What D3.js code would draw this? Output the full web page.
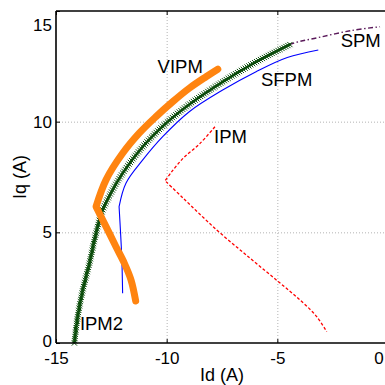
<!DOCTYPE html>
<html><head><meta charset="utf-8">
<script src="https://cdn.jsdelivr.net/npm/d3@7"></script>
<style>body{margin:0;background:#fff}svg{display:block}</style>
</head><body>
<svg id="chart" width="385" height="385"></svg>
<script>
// Axis ticks
const xTicks = [-15, -10, -5, 0];
const yTicks = [0, 5, 10, 15];

// Current trajectories (Id, Iq in A)
const spmId  = [-14.17, -14.02, -13.79, -13.49, -13.19, -12.89, -12.45, -11.99, -11.08, -10.03, -8.98, -7.47, -5.96, -4.40, -3.15, -1.64, -0.36];
const spmIq  = [0, 1.19, 2.39, 3.60, 4.96, 6.01, 6.90, 7.67, 8.87, 9.93, 10.78, 11.80, 12.70, 13.50, 13.80, 14.12, 14.29];

const ipm2Id = [-14.17, -14.02, -13.79, -13.49, -13.19, -12.89, -12.45, -11.99, -11.08, -10.03, -8.98, -7.47, -5.96, -4.40];
const ipm2Iq = [0, 1.19, 2.39, 3.60, 4.96, 6.01, 6.90, 7.67, 8.87, 9.93, 10.78, 11.80, 12.70, 13.50];

const vipmId = [-11.40, -11.61, -11.91, -12.29, -12.74, -13.19, -12.74, -11.99, -11.24, -10.48, -9.73, -8.98, -8.22, -7.69];
const vipmIq = [1.90, 2.85, 3.60, 4.35, 5.26, 6.16, 7.37, 8.57, 9.48, 10.23, 10.90, 11.51, 12.03, 12.37];

const sfpmId = [-11.99, -12.03, -12.15, -11.84, -11.08, -10.18, -8.98, -7.47, -5.96, -4.55, -3.15];
const sfpmIq = [2.25, 3.90, 6.16, 7.22, 8.27, 9.32, 10.45, 11.43, 12.26, 12.90, 13.24];

const ipmId  = [-7.82, -8.49, -9.25, -9.77, -10.07, -9.25, -7.74, -6.23, -4.95, -3.97, -3.22, -2.77];
const ipmIq  = [9.77, 9.02, 8.35, 7.74, 7.33, 6.54, 5.11, 3.83, 2.77, 1.94, 1.19, 0.51];

// Curve names and where their labels sit (in Id/Iq units)
const labelText = ["VIPM", "SFPM", "SPM", "IPM", "IPM2"];
const labelId   = [-10.41, -5.74, -2.14, -7.86, -13.92];
const labelIq   = [12.19, 11.61, 13.39, 9.02, 0.59];

(function () {
const svg = d3.select("#chart");
const W = 385, H = 385;
const padLeft = 56, yBottom = 343, yTop = 11;
const x = d3.scaleLinear().domain([-15, 0]).range([padLeft, 388]);
const y = d3.scaleLinear().domain([0, 15]).range([yBottom, yTop]);
const font = "'Liberation Sans', Arial, Helvetica, sans-serif";

svg.append("rect").attr("width", W).attr("height", H).attr("fill", "#fff");

// dotted grid
const grid = svg.append("g").attr("stroke", "#b3b3b3").attr("stroke-width", 1).attr("stroke-dasharray", "1,2");
grid.selectAll(".gx").data(xTicks.filter(v => v > -15 && v < 0)).join("line")
  .attr("x1", d => x(d) + 0.5).attr("x2", d => x(d) + 0.5).attr("y1", yTop).attr("y2", yBottom);
grid.selectAll(".gy").data(yTicks.filter(v => v > 0 && v < 15)).join("line")
  .attr("y1", d => y(d) + 0.5).attr("y2", d => y(d) + 0.5).attr("x1", padLeft).attr("x2", W);

const zip = (a, b) => a.map((v, i) => [v, b[i]]);
const lineSmooth = d3.line().x(d => x(d[0])).y(d => y(d[1])).curve(d3.curveCatmullRom.alpha(0.5));
// a trajectory with one sharp corner: smooth on each side of the corner
const cornered = (pts, k) => lineSmooth(pts.slice(0, k + 1)) + lineSmooth(pts.slice(k)).replace(/^M/, "L");

const plot = svg.append("g");

// SPM: dash-dot
plot.append("path").attr("d", lineSmooth(zip(spmId, spmIq)))
  .attr("fill", "none").attr("stroke", "#5a1a5a").attr("stroke-width", 1.4)
  .attr("stroke-dasharray", "5,2.5,1.5,2.5");

// IPM2: solid with dense x markers
const ipm2Path = plot.append("path").attr("d", lineSmooth(zip(ipm2Id, ipm2Iq)))
  .attr("fill", "none").attr("stroke", "#0b4a0b").attr("stroke-width", 2.5);
const node = ipm2Path.node();
const len = node.getTotalLength();
const marks = [];
for (let s = 0; s <= len; s += 2.2) marks.push(node.getPointAtLength(s));
plot.append("g").attr("stroke", "#0b4d0b").attr("stroke-width", 1).attr("fill", "none")
  .selectAll("path").data(marks).join("path")
  .attr("d", p => `M${p.x - 2.6},${p.y - 2.6}L${p.x + 2.6},${p.y + 2.6}M${p.x - 2.6},${p.y + 2.6}L${p.x + 2.6},${p.y - 2.6}`);

// SFPM
plot.append("path").attr("d", cornered(zip(sfpmId, sfpmIq), 2))
  .attr("fill", "none").attr("stroke", "#0000ff").attr("stroke-width", 1.1);

// IPM: dashed
plot.append("path").attr("d", cornered(zip(ipmId, ipmIq), 4))
  .attr("fill", "none").attr("stroke", "#ff0000").attr("stroke-width", 1.3)
  .attr("stroke-dasharray", "3,2");

// VIPM: thick orange
plot.append("path").attr("d", cornered(zip(vipmId, vipmIq), 5))
  .attr("fill", "none").attr("stroke", "#ff8410").attr("stroke-width", 7)
  .attr("stroke-linecap", "round").attr("stroke-linejoin", "round");

// axes
const fmt = d => String(d);
const xAxis = svg.append("g").attr("transform", `translate(0,${yBottom})`)
  .call(d3.axisBottom(x).tickValues(xTicks).tickFormat(fmt).tickSizeInner(-4).tickSizeOuter(0).tickPadding(9));
const xTopAxis = svg.append("g").attr("transform", `translate(0,${yTop})`)
  .call(d3.axisTop(x).tickValues(xTicks).tickFormat("").tickSizeInner(-4).tickSizeOuter(0));
const yAxis = svg.append("g").attr("transform", `translate(${padLeft},0)`)
  .call(d3.axisLeft(y).tickValues(yTicks).tickFormat(fmt).tickSizeInner(-4).tickSizeOuter(0).tickPadding(4));

[xAxis, xTopAxis, yAxis].forEach(g => {
  g.select(".domain").remove();
  g.selectAll(".tick line").attr("stroke", "#000").attr("stroke-width", 1);
  g.selectAll("text").attr("font-family", font).attr("font-size", 17).attr("fill", "#000");
});
xAxis.selectAll(".tick text").filter(d => d === 0).attr("dx", -9.5);
yAxis.selectAll(".tick text").filter(d => d === 15).attr("dy", "1.15em");
yAxis.selectAll(".tick text").filter(d => d === 0).attr("dy", "0.2em");

// frame
const frame = svg.append("g").attr("stroke", "#000").attr("stroke-width", 1.6);
frame.append("line").attr("x1", padLeft).attr("x2", padLeft).attr("y1", yTop).attr("y2", yBottom);
frame.append("line").attr("x1", padLeft).attr("x2", W).attr("y1", yBottom).attr("y2", yBottom);
frame.append("line").attr("x1", padLeft).attr("x2", W).attr("y1", yTop).attr("y2", yTop);

// axis titles
svg.append("text").attr("x", (padLeft + 388) / 2).attr("y", 381).attr("text-anchor", "middle")
  .attr("font-family", font).attr("font-size", 18).text("Id (A)");
svg.append("text").attr("transform", `translate(26,${(yTop + yBottom) / 2}) rotate(-90)`)
  .attr("text-anchor", "middle").attr("font-family", font).attr("font-size", 18).text("Iq (A)");

// curve labels
svg.append("g").selectAll("text").data(labelText).join("text")
  .attr("x", (d, i) => x(labelId[i])).attr("y", (d, i) => y(labelIq[i]))
  .attr("font-family", font).attr("font-size", 18.5).attr("fill", "#000").text(d => d);
})();
</script>
</body></html>
